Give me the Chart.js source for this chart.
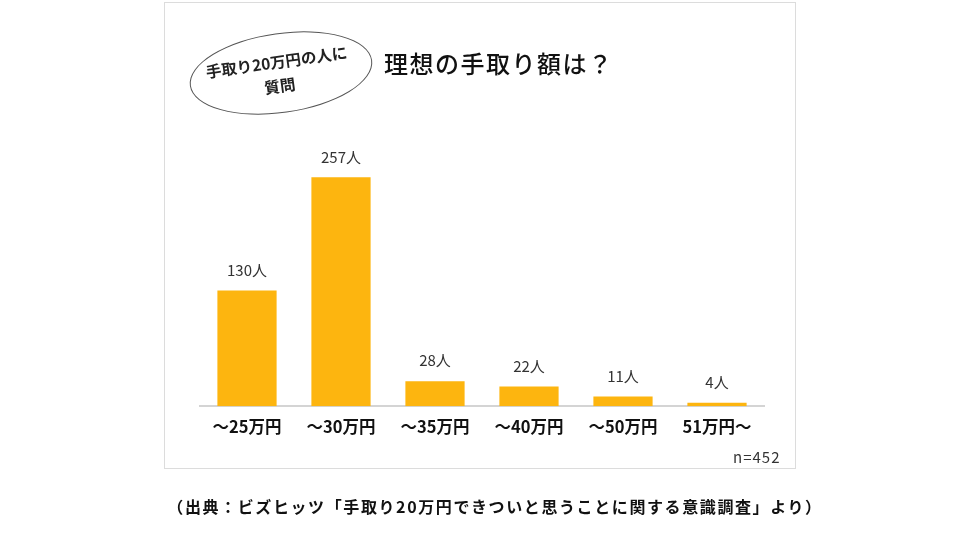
<!DOCTYPE html>
<html><head><meta charset="utf-8">
<script src="https://cdn.jsdelivr.net/npm/chart.js@4.4.1/dist/chart.umd.min.js"></script>
<style>
html,body{margin:0;padding:0;background:#fff;width:960px;height:540px;overflow:hidden;font-family:"Noto Sans CJK JP","Noto Sans",sans-serif;}
#frame{position:absolute;left:164px;top:2px;width:630px;height:465px;border:1px solid #dcdcdc;}
#wrap{position:absolute;left:0;top:0;width:960px;height:540px;}
#oval{position:absolute;left:189px;top:33px;width:184px;height:80px;border:1.5px solid #555;border-radius:50%;transform:rotate(-8deg);box-sizing:border-box;}
#ovaltxt{position:absolute;left:188px;top:49px;width:180px;text-align:center;font-size:15.5px;font-weight:700;color:#222;line-height:24px;transform:rotate(-8deg);}
#title{position:absolute;left:384px;top:45px;font-size:24px;font-weight:500;color:#111;letter-spacing:1.5px;}
#n{position:absolute;left:733px;top:446px;font-size:15px;color:#333;letter-spacing:1px;}
#cap{position:absolute;left:0;top:494px;width:990px;text-align:center;font-size:16px;font-weight:700;color:#111;letter-spacing:1.6px;}
</style></head>
<body>
<div id="frame"></div>
<div id="wrap"><canvas id="c" width="960" height="540"></canvas></div>
<div id="oval"></div>
<div id="ovaltxt">手取り20万円の人に<br>質問</div>
<div id="title">理想の手取り額は？</div>
<div id="n">n=452</div>
<div id="cap">（出典：ビズヒッツ「手取り20万円できついと思うことに関する意識調査」より）</div>
<script>
const categories = ["～25万円","～30万円","～35万円","～40万円","～50万円","51万円～"];
const counts = [130, 257, 28, 22, 11, 4];
const unit = "人";

const labelPlugin = {
  id: 'vlabels',
  afterDatasetsDraw(chart) {
    const ctx = chart.ctx;
    const meta = chart.getDatasetMeta(0);
    ctx.save();
    ctx.font = '15px "Noto Sans CJK JP", sans-serif';
    ctx.fillStyle = '#333';
    ctx.textAlign = 'center';
    ctx.textBaseline = 'bottom';
    meta.data.forEach((bar, i) => {
      ctx.fillText(counts[i] + unit, bar.x, bar.y - 13);
    });
    ctx.restore();
  }
};

new Chart(document.getElementById('c'), {
  type: 'bar',
  data: {
    labels: categories,
    datasets: [{
      data: counts,
      backgroundColor: '#FDB50F',
      categoryPercentage: 0.63,
      barPercentage: 1.0
    }]
  },
  options: {
    responsive: false,
    animation: false,
    layout: { padding: { left: 200, right: 196, top: 139, bottom: 100 } },
    plugins: { legend: { display: false }, tooltip: { enabled: false } },
    scales: {
      y: { display: false, min: 0, max: 300 },
      x: {
        grid: { display: false },
        border: { display: true, color: '#d4d4d4', width: 2 },
        ticks: { color: '#111', padding: 3, font: { size: 16.5, weight: 'bold', family: '"Noto Sans CJK JP", sans-serif' } }
      }
    }
  },
  plugins: [labelPlugin]
});
</script>
</body></html>
